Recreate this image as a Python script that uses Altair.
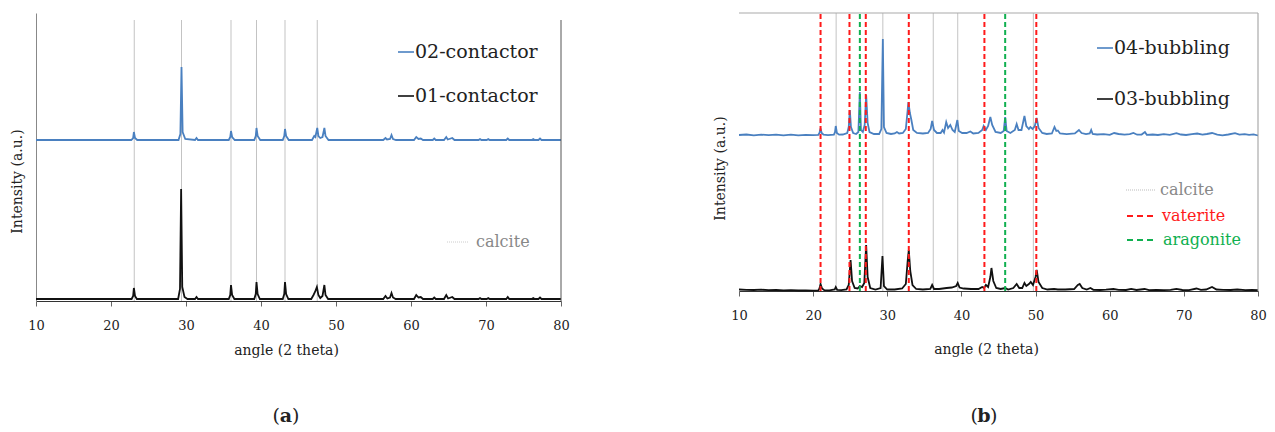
import altair as alt
import pandas as pd

FONT = "DejaVu Serif"
BLUE = "#4a80c0"
BLACK = "#111111"
GRAY_REF = "#bcbcbc"
RED = "#ff1a1a"
GREEN = "#10b050"
TEXT = "#222222"

# ---------------- panel (a) ----------------
A_SERIES = ["02-contactor", "01-contactor"]
A_COLORS = [BLUE, BLACK]
A_OFFSETS = [161, 2]
A02 = [(10, 0), (22.7, 0), (22.95, 2), (23.05, 8), (23.2, 2), (23.5, 0),
       (29.0, 0), (29.25, 6), (29.4, 73), (29.55, 8), (29.9, 1), (31.2, 0), (31.4, 2), (31.6, 0),
       (35.7, 0), (35.9, 3), (36.0, 9), (36.15, 3), (36.5, 0),
       (39.1, 0), (39.3, 4), (39.4, 12), (39.55, 4), (39.9, 0),
       (42.9, 0), (43.1, 4), (43.2, 11), (43.35, 4), (43.7, 0),
       (46.8, 0), (47.1, 4), (47.25, 3), (47.5, 12), (47.65, 4), (47.9, 2), (48.2, 3), (48.45, 12),
       (48.6, 4), (49.0, 0), (56.3, 0), (56.6, 2), (56.8, 0.5), (57.2, 1), (57.4, 5), (57.6, 1),
       (58.0, 0), (60.4, 0), (60.7, 3), (61.0, 1), (61.3, 1.5), (61.6, 0), (62.9, 0), (63.1, 1.5),
       (63.3, 0), (64.4, 0), (64.7, 3), (64.9, 0.5), (65.5, 2), (65.8, 0), (69.0, 0), (69.2, 1),
       (69.4, 0), (70.1, 0), (70.3, 1), (70.5, 0), (72.7, 0), (72.9, 1.5), (73.1, 0), (76.1, 0),
       (76.3, 1), (76.5, 0), (77.0, 0), (77.2, 1.5), (77.4, 0), (80, 0)]
A01 = [(10, 0), (22.75, 0), (22.95, 3), (23.05, 11), (23.2, 3), (23.45, 0),
       (28.95, 0), (29.2, 10), (29.35, 110), (29.5, 12), (29.8, 2), (30.2, 0),
       (31.2, 0), (31.4, 2), (31.6, 0), (35.7, 0), (35.9, 4), (36.0, 14), (36.15, 4), (36.45, 0),
       (39.1, 0), (39.3, 5), (39.4, 17), (39.55, 5), (39.85, 0),
       (42.9, 0), (43.1, 5), (43.2, 17), (43.35, 5), (43.65, 0),
       (46.7, 0), (47.0, 4), (47.2, 7), (47.45, 12), (47.65, 4), (47.9, 1), (48.2, 3), (48.45, 14),
       (48.6, 4), (48.95, 0), (56.3, 0), (56.6, 3), (56.85, 0.5), (57.2, 1.5), (57.4, 6), (57.6, 1.5),
       (57.95, 0), (60.4, 0), (60.7, 4), (61.0, 1.5), (61.3, 2), (61.6, 0), (62.9, 0), (63.1, 1.5),
       (63.3, 0), (64.4, 0), (64.7, 4), (64.95, 0.5), (65.5, 2), (65.8, 0), (69.0, 0), (69.2, 1),
       (69.4, 0), (70.1, 0), (70.3, 1), (70.5, 0), (72.7, 0), (72.9, 2), (73.1, 0), (76.1, 0),
       (76.3, 1), (76.5, 0), (77.0, 0), (77.2, 1.5), (77.4, 0), (80, 0)]
A_CALCITE = [23.1, 29.4, 36.0, 39.4, 43.2, 47.5]
A_YMAX = 288
A_LINE_TOP = 281

# ---------------- panel (b) ----------------
B_SERIES = ["04-bubbling", "03-bubbling"]
B_COLORS = [BLUE, BLACK]
B_OFFSETS = [156, 0]
B04 = [(10, 0), (11, 0.5), (12, -0.3), (13, 0.4), (14, -0.2), (15, 0.3), (16, -0.4), (17, 0.3),
       (18, -0.3), (19, 0.2), (20, -0.2), (20.7, 0.2), (20.85, 2), (21.0, 6.5), (21.15, 2), (21.4, 0.3),
       (22.0, -0.2), (22.8, 0.3), (22.95, 3), (23.05, 9), (23.2, 2), (23.5, 0.3), (24.0, 0.5),
       (24.6, 2), (24.8, 8), (24.95, 25), (25.1, 8), (25.4, 2), (25.8, 1), (26.1, 3), (26.3, 43),
       (26.45, 5), (26.7, 3), (26.95, 10), (27.15, 40), (27.35, 12), (27.6, 3), (28.2, 1), (28.9, 1),
       (29.2, 6), (29.4, 96), (29.55, 8), (29.9, 2), (30.5, 1), (31.0, 1.5), (31.3, 3), (31.6, 1.5),
       (32.1, 2), (32.5, 6), (32.75, 25), (32.85, 33), (33.05, 22), (33.25, 15), (33.5, 5), (34.0, 2),
       (34.8, 1.5), (35.5, 2), (35.85, 6), (36.05, 14), (36.3, 5), (36.7, 2), (37.2, 2), (37.45, 5),
       (37.65, 2.5), (37.95, 13), (38.2, 7), (38.5, 10), (38.8, 5), (39.1, 3), (39.45, 15), (39.65, 4),
       (40.1, 2), (40.7, 2), (41.2, 3.5), (41.6, 1.5), (42.3, 2), (42.8, 5), (43.0, 9), (43.3, 5),
       (43.6, 9), (43.9, 18), (44.15, 10), (44.6, 3), (45.3, 2), (45.7, 4), (45.9, 18), (46.1, 4),
       (46.6, 2), (47.2, 5), (47.45, 11), (47.7, 5), (48.1, 5), (48.5, 19), (48.75, 9), (49.1, 6),
       (49.3, 8), (49.6, 6), (49.9, 9), (50.15, 17), (50.4, 7), (50.9, 2), (51.5, 1), (52.2, 1.5),
       (52.55, 8), (52.8, 4), (53.0, 4.5), (53.3, 1.5), (54.2, 0.8), (55.3, 1.5), (55.85, 5), (56.2, 2),
       (56.8, 0.8), (57.3, 1.5), (57.5, 5), (57.7, 1), (58.3, 0.5), (59.2, 0.8), (60.0, 0.2), (60.6, 2),
       (61.2, 1), (62.0, 0.3), (62.7, 0.8), (63.2, 2), (63.7, 0.3), (64.3, 0.5), (64.75, 3), (65.0, 0.2),
       (65.8, 0.5), (66.5, 0), (67.3, 0.8), (68.1, 0.2), (69.0, 1.8), (69.6, 0.5), (70.3, 0), (71.1, 0.8),
       (71.8, 1.5), (72.5, 0.3), (73.1, 1), (73.8, 2), (74.5, 0.3), (75.2, -0.4), (76.0, 0.5), (76.9, 1.8),
       (77.5, 0.3), (78.2, 0.9), (78.8, 0.2), (79.4, 0.6), (80, -0.5)]
B03 = [(10, 1.5), (11, 1.2), (12, 1.0), (13, 1.3), (14, 0.8), (15, 1.0), (16, 0.7), (17, 0.9),
       (18, 0.5), (19, 0.6), (20, 0.4), (20.7, 0.6), (20.85, 2.5), (21.0, 7), (21.2, 2.5), (21.5, 0.8),
       (22.2, 0.6), (22.9, 1.5), (23.05, 4), (23.25, 1.2), (23.8, 0.8), (24.5, 1.5), (24.8, 6),
       (25.05, 31), (25.25, 10), (25.6, 3), (26.0, 2.5), (26.3, 5), (26.6, 4), (26.9, 8), (27.15, 46),
       (27.35, 14), (27.7, 3), (28.4, 1.5), (29.1, 3), (29.35, 35), (29.55, 5), (30.0, 1.5), (31.0, 1.5),
       (32.0, 2.5), (32.5, 7), (32.75, 30), (32.9, 41), (33.1, 20), (33.4, 6), (33.9, 2), (34.8, 1.5),
       (35.8, 2), (36.05, 6), (36.3, 2), (37.0, 2), (38.0, 3), (38.7, 3.5), (39.3, 5), (39.5, 8),
       (39.75, 3.5), (40.3, 2.5), (41.3, 2), (42.3, 2), (42.8, 4), (43.05, 3), (43.3, 6), (43.6, 4),
       (43.9, 14), (44.05, 23), (44.3, 10), (44.7, 3), (45.3, 2), (45.9, 3), (46.3, 1.5), (47.0, 3),
       (47.45, 7), (47.8, 3), (48.2, 3), (48.5, 8), (48.75, 5), (49.1, 7), (49.35, 9), (49.65, 6),
       (50.0, 14), (50.15, 21), (50.4, 9), (50.9, 3), (51.6, 1.5), (52.5, 2), (53.0, 1.5), (54.0, 1.5),
       (55.2, 2), (55.7, 6), (55.95, 7), (56.3, 3), (56.9, 1.5), (57.4, 3), (57.8, 1.2), (58.7, 1),
       (59.5, 1.3), (60.5, 2), (61.2, 1.2), (62.2, 1), (62.9, 2.2), (63.6, 1), (64.7, 2), (65.3, 0.8),
       (66.3, 1), (67.3, 0.8), (68.2, 1.2), (69.0, 2.2), (69.8, 1), (70.7, 0.8), (71.7, 2.5), (72.3, 1.2),
       (73.0, 1.5), (73.8, 4), (74.4, 1.5), (75.3, 1.2), (76.3, 1), (77.2, 1.5), (78.3, 0.8), (79.2, 1),
       (80, 0.8)]
B_CALCITE = [23.1, 29.4, 36.2, 39.5, 49.7]
B_VATERITE = [21.0, 24.9, 27.1, 32.9, 43.1, 50.1]
B_ARAGONITE = [26.3, 45.9]
B_YMAX = 278

X_TICKS = [10, 15, 20, 25, 30, 35, 40, 45, 50, 55, 60, 65, 70, 75, 80]
X_TITLE = "angle (2 theta)"
Y_TITLE = "Intensity (a.u.)"


def trace_frame(points, offset, name):
    return pd.DataFrame({"angle": [p[0] for p in points],
                         "intensity": [p[1] + offset for p in points],
                         "series": name,
                         "order": list(range(len(points)))})


def x_enc(title_x, title_pad):
    return alt.X("angle:Q",
                 scale=alt.Scale(domain=[10, 80], nice=False, zero=False),
                 axis=alt.Axis(values=X_TICKS,
                               labelExpr="datum.value % 10 == 0 ? datum.label : ''",
                               title=X_TITLE, titleX=title_x, titlePadding=title_pad,
                               titleFont=FONT, titleFontSize=14, titleFontWeight="normal",
                               titleColor=TEXT, labelFont=FONT, labelFontSize=13,
                               labelColor=TEXT, labelPadding=13, tickSize=5,
                               tickColor="#666666", domainColor="#333333", grid=False,
                               labelFlush=False))


def y_enc(ymax, show_domain, title_y):
    return alt.Y("intensity:Q",
                 scale=alt.Scale(domain=[0, ymax], nice=False, zero=False),
                 axis=alt.Axis(title=Y_TITLE, labels=False, ticks=False, grid=False,
                               domain=show_domain, domainColor="#888888", titlePadding=12,
                               titleY=title_y, titleFont=FONT, titleFontSize=14,
                               titleFontWeight="normal", titleColor=TEXT))


def ref_rules(angles, top, color, width, dash=None):
    props = dict(color=color, strokeWidth=width)
    if dash:
        props["strokeDash"] = dash
    return alt.Chart(pd.DataFrame({"angle": angles})).mark_rule(**props).encode(
        x="angle:Q", y=alt.datum(0), y2=alt.datum(top))


def legend_entry(label, line_color, text_color, x0, x1, y, size, dash=None, width=1.6, gap=1):
    props = dict(color=line_color, strokeWidth=width)
    if dash:
        props["strokeDash"] = dash
    line = alt.Chart(pd.DataFrame({"l": [label]})).mark_rule(**props).encode(
        x=alt.value(x0), x2=alt.value(x1), y=alt.value(y))
    text = alt.Chart(pd.DataFrame({"l": [label]})).mark_text(
        font=FONT, fontSize=size, color=text_color, align="left", baseline="middle").encode(
        x=alt.value(x1 + gap), y=alt.value(y), text="l:N")
    return line + text


def panel_label(letter, xc, y):
    df = pd.DataFrame({"t": [letter]})
    lp = alt.Chart(df).mark_text(text="(", font=FONT, fontSize=19, align="right",
                                 baseline="middle", color=TEXT).encode(
        x=alt.value(xc - 6), y=alt.value(y))
    mid = alt.Chart(df).mark_text(font=FONT, fontSize=19, fontWeight="bold", align="center",
                                  baseline="middle", color=TEXT).encode(
        x=alt.value(xc), y=alt.value(y), text="t:N")
    rp = alt.Chart(df).mark_text(text=")", font=FONT, fontSize=19, align="left",
                                 baseline="middle", color=TEXT).encode(
        x=alt.value(xc + 6), y=alt.value(y))
    return lp + mid + rp


# ---------- build panel (a) ----------
df_a = pd.concat([trace_frame(A02, A_OFFSETS[0], A_SERIES[0]),
                  trace_frame(A01, A_OFFSETS[1], A_SERIES[1])])
traces_a = alt.Chart(df_a).mark_line(strokeWidth=1.8).encode(
    x=x_enc(250, 11),
    y=y_enc(A_YMAX, True, 168),
    color=alt.Color("series:N", scale=alt.Scale(domain=A_SERIES, range=A_COLORS), legend=None),
    order="order:Q")
border_a = alt.Chart(pd.DataFrame({"angle": [80]})).mark_rule(color="#555555", strokeWidth=1).encode(
    x="angle:Q", y=alt.datum(0), y2=alt.datum(A_LINE_TOP))
panel_a = alt.layer(
    ref_rules(A_CALCITE, A_LINE_TOP, GRAY_REF, 0.9),
    traces_a,
    border_a,
    legend_entry(A_SERIES[0], BLUE, TEXT, 362, 378, 39, 19),
    legend_entry(A_SERIES[1], BLACK, TEXT, 362, 378, 83, 19),
    legend_entry("calcite", "#cccccc", "#888888", 411, 433, 229, 16, dash=[1, 1], width=1, gap=7),
    panel_label("a", 250, 403),
).properties(width=525, height=A_YMAX)

# ---------- build panel (b) ----------
df_b = pd.concat([trace_frame(B04, B_OFFSETS[0], B_SERIES[0]),
                  trace_frame(B03, B_OFFSETS[1], B_SERIES[1])])
traces_b = alt.Chart(df_b).mark_line(strokeWidth=1.8).encode(
    x=x_enc(247, 20),
    y=y_enc(B_YMAX, False, 155),
    color=alt.Color("series:N", scale=alt.Scale(domain=B_SERIES, range=B_COLORS), legend=None),
    order="order:Q")
border_b_right = alt.Chart(pd.DataFrame({"angle": [80]})).mark_rule(color="#999999", strokeWidth=1).encode(
    x="angle:Q", y=alt.datum(0), y2=alt.datum(B_YMAX))
border_b_top = alt.Chart(pd.DataFrame({"angle": [10]})).mark_rule(color="#aaaaaa", strokeWidth=1.2).encode(
    x="angle:Q", x2=alt.datum(80), y=alt.datum(B_YMAX))
panel_b = alt.layer(
    ref_rules(B_CALCITE, B_YMAX, GRAY_REF, 0.9),
    traces_b,
    border_b_right,
    border_b_top,
    ref_rules(B_VATERITE, B_YMAX, RED, 2, dash=[5, 3]),
    ref_rules(B_ARAGONITE, B_YMAX, GREEN, 2, dash=[5, 3]),
    legend_entry(B_SERIES[0], BLUE, TEXT, 358, 374, 35, 19),
    legend_entry(B_SERIES[1], BLACK, TEXT, 358, 374, 86, 19),
    legend_entry("calcite", "#bbbbbb", "#888888", 387, 417, 177, 16, dash=[1, 1], width=1, gap=4),
    legend_entry("vaterite", RED, RED, 388, 416, 203, 16, dash=[6, 4], width=2, gap=7),
    legend_entry("aragonite", GREEN, GREEN, 388, 416, 227, 16, dash=[6, 4], width=2, gap=8),
    panel_label("b", 245, 403),
).properties(width=519, height=B_YMAX)

chart = alt.hconcat(panel_a, panel_b, spacing=143).properties(
    padding={"left": 10, "top": 12, "right": 0, "bottom": 0},
    background="white",
).configure(font=FONT).configure_text(font=FONT).configure_view(stroke=None)

chart.save("out.html", embed_options={"renderer": "svg", "actions": False})
